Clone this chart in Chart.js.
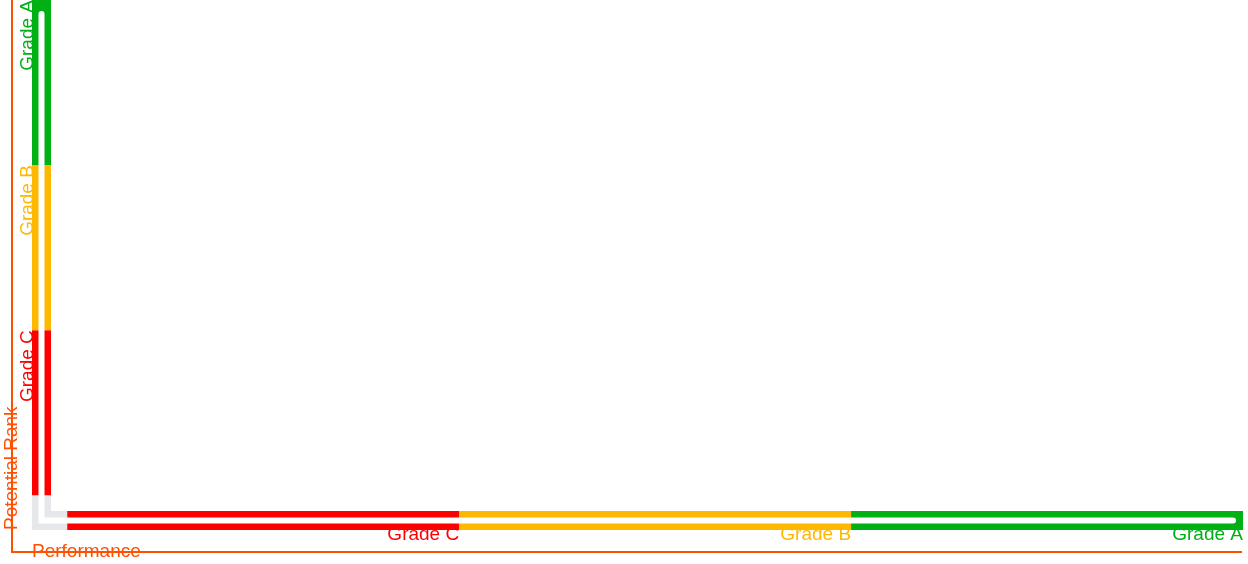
<!DOCTYPE html>
<html>
<head>
<meta charset="utf-8">
<script src="https://cdn.jsdelivr.net/npm/chart.js@4.4.1/dist/chart.umd.min.js"></script>
<style>
html,body{margin:0;padding:0;background:#ffffff;}
#wrap{width:1248px;height:564px;position:relative;}
</style>
</head>
<body>
<div id="wrap"><canvas id="chart"></canvas></div>
<script>
// ---- data ----
const xCategories = ['Grade C', 'Grade B', 'Grade A'];   // left to right
const yCategories = ['Grade C', 'Grade B', 'Grade A'];   // bottom to top
const categoryValues = [1, 2, 3];                         // upper bound of each band
const categoryColors = ['#ff0000', '#ffb800', '#00b014'];
const xTitle = 'Performance';
const yTitle = 'Potential Rank';
const xRange = [-0.09, 3];
const yRange = [-0.21, 3];

const ORANGE = '#ff5000';
const TRACK_GREY = '#e5e7eb';
const FONT = "'Liberation Sans', Arial, sans-serif";

// axis track: thick band along left/bottom edge of chart area, coloured by category
const axisTrack = {
  id: 'axisTrack',
  beforeDraw(chart, args, o) {
    const {ctx, chartArea: ca} = chart;
    ctx.save();
    ctx.strokeStyle = o.frameColor;
    ctx.lineWidth = o.frameWidth;
    ctx.lineJoin = 'miter';
    ctx.beginPath();
    ctx.moveTo(ca.left - o.frameLeft, ca.top);
    ctx.lineTo(ca.left - o.frameLeft, ca.bottom + o.frameBottom);
    ctx.lineTo(ca.right - 1, ca.bottom + o.frameBottom);
    ctx.stroke();
    ctx.restore();
  },
  beforeDatasetsDraw(chart, args, o) {
    const {ctx, chartArea: ca, scales} = chart;
    const xs = scales.x, ys = scales.y;
    const w = o.width;
    const cx = ca.left + w / 2;
    const cy = ca.bottom - w / 2;
    ctx.save();
    ctx.lineCap = 'butt';
    ctx.lineJoin = 'miter';
    ctx.lineWidth = w;
    ctx.strokeStyle = o.baseColor;
    ctx.beginPath();
    ctx.moveTo(cx, ca.top);
    ctx.lineTo(cx, cy);
    ctx.lineTo(ca.right, cy);
    ctx.stroke();
    categoryValues.forEach((v, i) => {
      ctx.strokeStyle = categoryColors[i];
      ctx.beginPath();
      ctx.moveTo(cx, ys.getPixelForValue(v - 1));
      ctx.lineTo(cx, ys.getPixelForValue(v));
      ctx.stroke();
      ctx.beginPath();
      ctx.moveTo(xs.getPixelForValue(v - 1), cy);
      ctx.lineTo(xs.getPixelForValue(v), cy);
      ctx.stroke();
    });
    ctx.strokeStyle = o.innerColor;
    ctx.lineWidth = o.innerWidth;
    ctx.lineCap = 'round';
    ctx.beginPath();
    ctx.moveTo(cx, ca.top + o.insetTop);
    ctx.lineTo(cx, cy);
    ctx.lineTo(ca.right - o.insetRight, cy);
    ctx.stroke();
    ctx.restore();
  }
};

const setTicks = s => { s.ticks = categoryValues.map(v => ({value: v})); };

new Chart(document.getElementById('chart'), {
  type: 'scatter',
  data: { datasets: [] },
  plugins: [axisTrack],
  options: {
    responsive: true,
    maintainAspectRatio: false,
    animation: false,
    layout: { padding: { left: 0, top: 0, right: 5, bottom: 0 } },
    plugins: {
      legend: { display: false },
      tooltip: { enabled: false },
      axisTrack: {
        width: 19, baseColor: TRACK_GREY, innerColor: '#ffffff', innerWidth: 6,
        insetTop: 14, insetRight: 10,
        frameColor: ORANGE, frameWidth: 2, frameLeft: 20, frameBottom: 22
      }
    },
    scales: {
      x: {
        type: 'linear', position: 'bottom', min: xRange[0], max: xRange[1],
        afterBuildTicks: setTicks,
        afterFit: s => { s.height = 34; s.paddingLeft = 0; s.paddingRight = 0; },
        grid: { display: false, drawTicks: false },
        border: { display: false },
        ticks: {
          align: 'end', padding: -6.9, autoSkip: false, maxRotation: 0,
          font: { family: FONT, size: 19 },
          color: c => categoryColors[c.index],
          callback: (v, i) => xCategories[i]
        },
        title: {
          display: true, text: xTitle, align: 'start', color: ORANGE,
          font: { family: FONT, size: 19 }, padding: { top: 0, bottom: 0.6 }
        }
      },
      y: {
        type: 'linear', position: 'left', min: yRange[0], max: yRange[1],
        afterBuildTicks: setTicks,
        afterFit: s => { s.width = 32; s.paddingTop = 0; s.paddingBottom = 0; },
        grid: { display: false, drawTicks: false },
        border: { display: false },
        ticks: {
          minRotation: 90, maxRotation: 90, padding: 4.5, autoSkip: false,
          font: { family: FONT, size: 19 },
          color: c => categoryColors[c.index],
          callback: (v, i) => yCategories[i]
        },
        title: {
          display: true, text: yTitle, align: 'start', color: ORANGE,
          font: { family: FONT, size: 19 }, padding: { top: 0, bottom: 0 }
        }
      }
    }
  }
});
</script>
</body>
</html>
